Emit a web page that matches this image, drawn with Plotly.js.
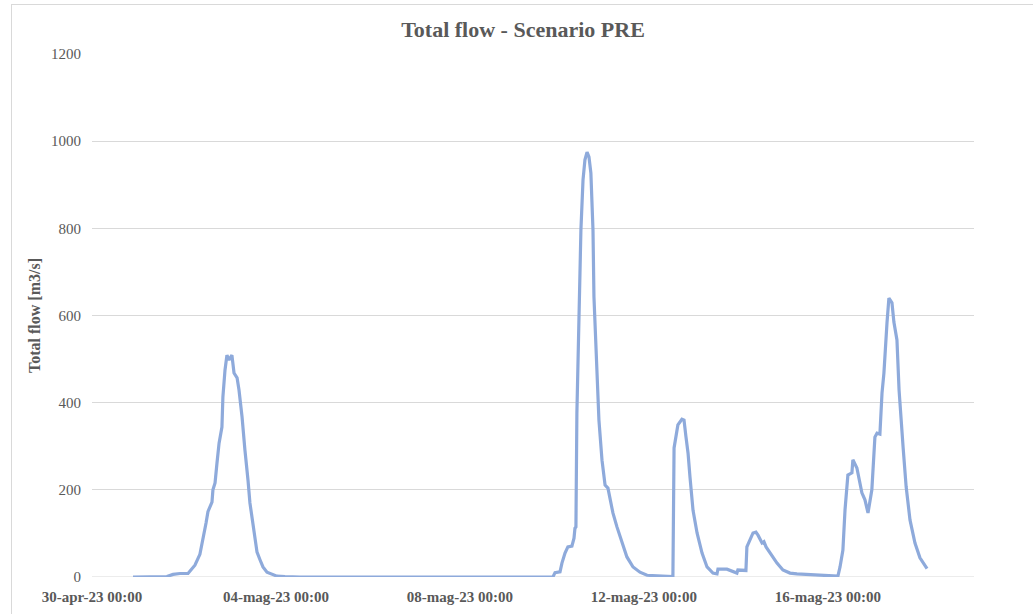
<!DOCTYPE html>
<html>
<head>
<meta charset="utf-8">
<script src="https://cdn.plot.ly/plotly-3.0.1.min.js"></script>
<style>
  html, body { margin: 0; padding: 0; background: #ffffff; }
  #wrap { position: relative; width: 1033px; height: 614px; overflow: hidden; }
  #chart { width: 1033px; height: 614px; }
  #frame { position: absolute; left: 11px; top: 4px; width: 1100px; height: 700px;
           border-left: 1px solid #d9d9d9; border-top: 1px solid #d9d9d9; pointer-events: none; }
</style>
</head>
<body>
<div id="wrap">
  <div id="chart"></div>
  <div id="frame"></div>
</div>
<script>
// Hours elapsed since 30-apr-23 00:00
const hours = [
  21.4, 39.1, 42.3, 45.9, 50.1, 52.2, 53.7, 56.3, 57.9, 59.5, 60.5, 62.6, 63.1, 64.2, 65.2,
  66.3, 67.8, 68.3, 69.4, 70.4, 71.5, 73.0, 74.1, 75.7, 76.7, 78.3, 79.8, 80.9, 81.4, 82.4,
  83.5, 84.0, 85.0, 86.1, 87.7, 89.2, 91.3, 93.9, 96.5, 100.7, 108.5,
  240.5, 241.6, 244.2, 245.2, 246.8, 248.3, 250.4, 251.5, 252.0, 252.5, 253.0, 254.1, 255.1,
  256.2, 257.2, 258.3, 259.3, 260.3, 261.4, 261.9, 263.5, 264.5, 266.1, 267.7, 269.2, 270.3,
  271.8, 273.9, 276.5, 279.1, 282.3, 285.9, 289.6, 296.3, 303.1,
  303.7, 304.7, 305.7, 307.8, 308.9, 309.9, 311.0, 312.0, 313.6, 315.7, 318.3, 320.9, 324.0,
  326.1, 326.6, 331.3, 333.9, 336.5, 337.0, 341.2, 341.7, 343.3, 344.9, 346.4, 347.5, 349.6,
  350.6, 351.7, 353.7, 357.4, 360.5, 364.2, 367.8, 374.6, 382.4, 389.2,
  390.3, 391.8, 392.9, 393.9, 394.4, 396.5, 397.0, 399.1, 400.2, 401.7, 403.3, 404.9, 406.9,
  408.5, 409.6, 411.1, 412.2, 413.2, 414.8, 415.8, 417.4, 418.4, 420.0, 421.1, 423.2, 424.8,
  426.8, 429.4, 432.0, 435.7
];
// Total flow [m3/s]
const flow = [
  0, 1, 6, 8, 8, 18, 27, 52, 85, 124, 150, 172, 200, 216, 261,
  307, 344, 413, 475, 509, 498, 509, 468, 457, 429, 367, 291, 250, 222, 170,
  138, 115, 85, 57, 39, 23, 11, 6, 2, 1, 0,
  0, 10, 12, 32, 55, 69, 71, 89, 112, 115, 376, 597, 796,
  911, 957, 975, 964, 927, 796, 643, 491, 360, 268, 211, 204, 177,
  147, 115, 78, 46, 23, 11, 4, 2, 1,
  296, 322, 349, 362, 360, 322, 284, 230, 153, 101, 55, 23, 9,
  7, 18, 18, 14, 9, 16, 15, 69, 85, 101, 103, 96, 78,
  81, 69, 55, 32, 16, 9, 7, 5, 3, 2,
  23, 62, 154, 200, 234, 239, 269, 250, 223, 193, 177, 147, 200,
  321, 330, 328, 422, 468, 583, 640, 629, 585, 544, 429, 298, 207,
  131, 78, 44, 19
];
const tickVals = ['2023-04-30', '2023-05-04', '2023-05-08', '2023-05-12', '2023-05-16'];
const tickText = ['30-apr-23 00:00', '04-mag-23 00:00', '08-mag-23 00:00', '12-mag-23 00:00', '16-mag-23 00:00'];
const yTicks = [0, 200, 400, 600, 800, 1000, 1200];

const base = Date.UTC(2023, 3, 30, 0, 0, 0);
function fmt(h) {
  return new Date(base + h * 3600000).toISOString().slice(0, 19).replace('T', ' ');
}
const xDates = hours.map(fmt);

const serif = '"Liberation Serif", "Times New Roman", serif';
const grey = '#595959';

const trace = {
  type: 'scatter',
  mode: 'lines',
  x: xDates,
  y: flow,
  line: { color: '#8eaadb', width: 3.2, shape: 'linear' },
  hoverinfo: 'x+y',
  showlegend: false
};

const layout = {
  width: 1033,
  height: 614,
  margin: { l: 92, r: 59, t: 54, b: 37, pad: 0 },
  paper_bgcolor: '#ffffff',
  plot_bgcolor: '#ffffff',
  title: {
    text: '<b>Total flow - Scenario PRE</b>',
    font: { family: serif, size: 22, color: grey },
    xref: 'container', x: 0.5063, xanchor: 'center',
    yref: 'container', y: 1 - 29 / 614, yanchor: 'middle'
  },
  xaxis: {
    type: 'date',
    range: [fmt(0), fmt(460.2)],
    tickmode: 'array',
    tickvals: tickVals,
    ticktext: tickText,
    tickfont: { family: serif, size: 15, color: grey, weight: 'bold' },
    showgrid: false,
    zeroline: false,
    showline: false,
    ticks: '',
    ticklabelstandoff: 9
  },
  yaxis: {
    range: [0, 1200],
    tickmode: 'array',
    tickvals: yTicks,
    ticktext: yTicks.map(String),
    tickfont: { family: serif, size: 15, color: grey },
    showgrid: true,
    gridcolor: '#d9d9d9',
    gridwidth: 1,
    zeroline: false,
    showline: false,
    ticks: '',
    ticklabelstandoff: 10,
    title: {
      text: '<b>Total flow [m3/s]</b>',
      font: { family: serif, size: 16, color: grey },
      standoff: 6
    }
  },
  shapes: [{
    type: 'line', xref: 'paper', yref: 'y', x0: 0, x1: 1, y0: 0, y1: 0,
    line: { color: '#d9d9d9', width: 1 }, layer: 'below'
  }]
};

Plotly.newPlot('chart', [trace], layout, { displayModeBar: false, staticPlot: true });
</script>
</body>
</html>
